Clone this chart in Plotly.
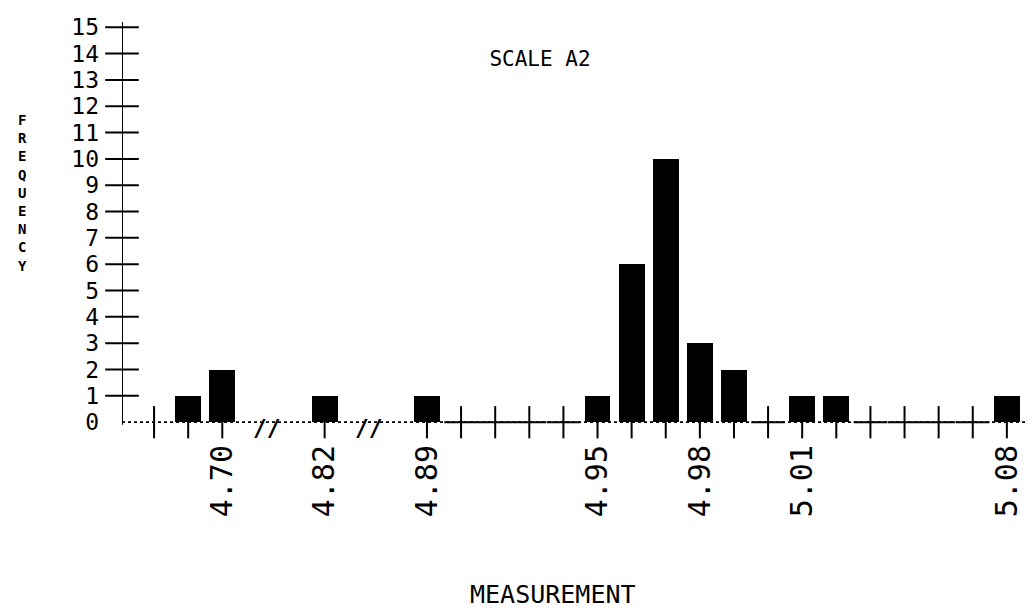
import plotly.graph_objects as go

# ---- data (slot index along the broken measurement axis) ----
bar_slots = [1, 2, 5, 8, 13, 14, 15, 16, 17, 19, 20, 25]
bar_counts = [1, 2, 1, 1, 1, 6, 10, 3, 2, 1, 1, 1]
empty_slots = [9, 10, 11, 12, 18, 21, 22, 23, 24]
plain_tick_slots = [0]
label_slots = [2, 5, 8, 13, 16, 19, 25]
label_text = ["4.70", "4.82", "4.89", "4.95", "4.98", "5.01", "5.08"]
break_after_slots = [2, 5]
y_ticks = list(range(0, 16))

FONT = "DejaVu Sans Mono"
X_RANGE = [-0.94, 26.03]
Y_RANGE = [-0.6, 15.35]
axis_x = X_RANGE[0]

W, H = 1034, 610
M_L, M_R, M_T, M_B = 114, 0, 10, 180
PLOT_BOTTOM = H - M_B
PLOT_H = H - M_T - M_B
PLOT_W = W - M_L - M_R

fig = go.Figure()

# bars
fig.add_trace(go.Bar(
    x=bar_slots, y=bar_counts, width=0.76,
    marker=dict(color="black", line=dict(width=0)),
    hoverinfo="skip", showlegend=False,
))

# vertical tick marks on every slot
tick_slots = plain_tick_slots + bar_slots + empty_slots
fig.add_trace(go.Scatter(
    x=tick_slots, y=[0] * len(tick_slots), mode="markers",
    marker=dict(symbol="line-ns", size=23, line=dict(color="black", width=2)),
    hoverinfo="skip", showlegend=False, cliponaxis=False,
))
# horizontal arms of the "+" on empty slots
fig.add_trace(go.Scatter(
    x=empty_slots, y=[0] * len(empty_slots), mode="markers",
    marker=dict(symbol="line-ew", size=24, line=dict(color="black", width=2)),
    hoverinfo="skip", showlegend=False, cliponaxis=False,
))

# y axis line and its "+" ticks
fig.add_trace(go.Scatter(
    x=[axis_x, axis_x], y=[-0.1, y_ticks[-1] + 0.2], mode="lines",
    line=dict(color="black", width=2),
    hoverinfo="skip", showlegend=False, cliponaxis=False,
))
fig.add_trace(go.Scatter(
    x=[axis_x] * (len(y_ticks) - 1), y=y_ticks[1:], mode="markers",
    marker=dict(symbol="line-ew", size=24, line=dict(color="black", width=2)),
    hoverinfo="skip", showlegend=False, cliponaxis=False,
))

# dotted baseline
fig.add_shape(type="line", xref="paper", x0=0, x1=1, yref="y", y0=0, y1=0,
              line=dict(color="black", width=1.8, dash="dot"))

# axis break marks
for s in break_after_slots:
    fig.add_annotation(x=s + 1.3, y=-0.22, xref="x", yref="y", text="<b>//</b>",
                       showarrow=False, font=dict(family=FONT, size=23, color="black"),
                       xanchor="center", yanchor="middle")

# title
fig.update_layout(
    title=dict(text="SCALE A2", x=532 / W, y=1 - 51 / H, xanchor="center",
               yanchor="middle", font=dict(family=FONT, size=21, color="black")),
)

# axis titles
fig.add_annotation(x=(545 - M_L) / PLOT_W, y=-(586 - PLOT_BOTTOM) / PLOT_H,
                   xref="paper", yref="paper",
                   text="MEASUREMENT", showarrow=False,
                   font=dict(family=FONT, size=25, color="black"),
                   xanchor="center", yanchor="middle")
fig.add_annotation(x=(14 - M_L) / PLOT_W, y=(PLOT_BOTTOM - 185) / PLOT_H,
                   xref="paper", yref="paper",
                   text="<b>" + "<br>".join(list("FREQUENCY")) + "</b>", showarrow=False,
                   font=dict(family=FONT, size=14, color="black"),
                   xanchor="center", yanchor="middle", align="center")

fig.update_xaxes(range=X_RANGE, tickvals=label_slots, ticktext=label_text,
                 tickangle=-90, tickfont=dict(family=FONT, size=30, color="black"),
                 showgrid=False, zeroline=False, showline=False, ticks="")
fig.update_yaxes(range=Y_RANGE, tickvals=y_ticks, ticktext=[str(v) for v in y_ticks],
                 tickfont=dict(family=FONT, size=23, color="black"),
                 showgrid=False, zeroline=False, showline=False, ticks="",
                 ticklabelstandoff=22)

fig.update_layout(
    width=W, height=H,
    margin=dict(l=M_L, r=M_R, t=M_T, b=M_B),
    plot_bgcolor="white", paper_bgcolor="white",
    bargap=0, showlegend=False,
)

fig.write_html("out.html")
